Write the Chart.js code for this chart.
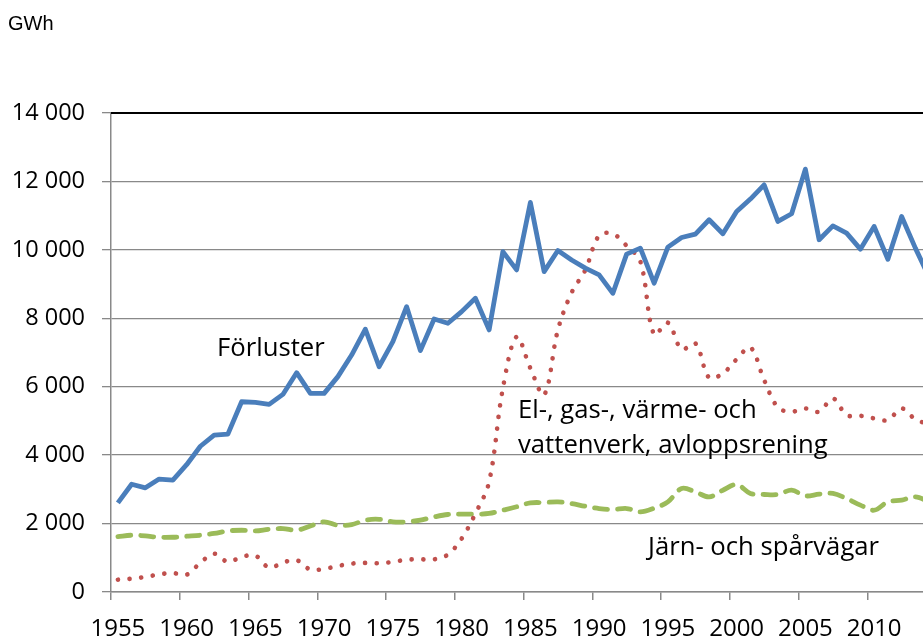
<!DOCTYPE html>
<html>
<head>
<meta charset="utf-8">
<script src="https://cdn.jsdelivr.net/npm/chart.js@4"></script>
<style>
  html, body { margin: 0; padding: 0; background: #fff; overflow: hidden; width: 923px; height: 637px; }
  canvas { display: block; }
</style>
</head>
<body>
<canvas id="chart" width="950" height="637"></canvas>
<script>
const years = [
    '1955', '1956', '1957', '1958', '1959', '1960', '1961', '1962', '1963', '1964',
    '1965', '1966', '1967', '1968', '1969', '1970', '1971', '1972', '1973', '1974',
    '1975', '1976', '1977', '1978', '1979', '1980', '1981', '1982', '1983', '1984',
    '1985', '1986', '1987', '1988', '1989', '1990', '1991', '1992', '1993', '1994',
    '1995', '1996', '1997', '1998', '1999', '2000', '2001', '2002', '2003', '2004',
    '2005', '2006', '2007', '2008', '2009', '2010', '2011', '2012', '2013', '2014'
];

// GWh
const forluster = [
    2605, 3150, 3045, 3300, 3270, 3720, 4260, 4585, 4615, 5560,
    5540, 5485, 5775, 6410, 5805, 5805, 6295, 6925, 7680, 6585,
    7320, 8340, 7055, 7980, 7855, 8195, 8585, 7660, 9950, 9415,
    11385, 9365, 9980, 9705, 9465, 9270, 8730, 9875, 10050, 9025,
    10080, 10360, 10460, 10880, 10470, 11120, 11485, 11900, 10830, 11055,
    12360, 10295, 10700, 10490, 10020, 10685, 9725, 10975, 10050, 9200
];
const elGasVarme = [
    360, 390, 440, 515, 555, 505, 855, 1120, 880, 1025,
    1065, 710, 860, 930, 655, 675, 760, 830, 850, 840,
    880, 945, 955, 955, 1095, 1560, 2290, 3220, 5950, 7460,
    6540, 5760, 7660, 8750, 9415, 10420, 10470, 10120, 9660, 7520,
    7870, 7090, 7270, 6260, 6390, 6800, 7150, 6195, 5395, 5270,
    5365, 5270, 5660, 5170, 5150, 5075, 5025, 5365, 5045, 4900
];
const jarnvagar = [
    1620, 1660, 1640, 1600, 1600, 1630, 1660, 1710, 1785, 1805,
    1785, 1835, 1855, 1805, 1930, 2050, 1950, 1970, 2100, 2125,
    2050, 2050, 2100, 2195, 2265, 2275, 2275, 2295, 2390, 2490,
    2605, 2615, 2635, 2585, 2505, 2440, 2410, 2440, 2340, 2450,
    2635, 3025, 2925, 2780, 2975, 3140, 2880, 2850, 2850, 2975,
    2810, 2860, 2880, 2730, 2540, 2390, 2635, 2685, 2780, 2640
];
const yTicks = [0, 2000, 4000, 6000, 8000, 10000, 12000, 14000];

const gridGray = '#898989';
const fontFamily = '"Open Sans", sans-serif';

// text labels drawn straight on the canvas
const textLabels = {
    id: 'textLabels',
    afterDraw(chart) {
        const ctx = chart.ctx;
        const area = chart.chartArea;
        ctx.save();
        // top border of the plot area
        ctx.strokeStyle = '#000';
        ctx.lineWidth = 2;
        ctx.beginPath();
        ctx.moveTo(area.left, area.top);
        ctx.lineTo(area.right, area.top);
        ctx.stroke();

        ctx.fillStyle = '#000';
        ctx.textBaseline = 'alphabetic';
        ctx.textAlign = 'left';
        ctx.font = '20px "Liberation Sans", Arial, sans-serif';
        ctx.fillText('GWh', 8, 30);

        ctx.font = '25.7px ' + fontFamily;
        ctx.fillText('Förluster', 217, 356);
        ctx.fillText('El-, gas-, värme- och', 518, 418);
        ctx.fillText('vattenverk, avloppsrening', 518, 453);
        ctx.fillText('Järn- och spårvägar', 648, 555);
        ctx.restore();
    }
};

const ctx = document.getElementById('chart').getContext('2d');
new Chart(ctx, {
    type: 'line',
    data: {
        labels: years,
        datasets: [
            {
                label: 'Förluster',
                data: forluster,
                borderColor: '#4a7ebb',
                borderWidth: 4.8,
                tension: 0,
                borderJoinStyle: 'round'
            },
            {
                label: 'El-, gas-, värme- och vattenverk, avloppsrening',
                data: elGasVarme,
                borderColor: '#c0504d',
                borderWidth: 4.6,
                borderCapStyle: 'round',
                borderDash: [0.1, 11.6],
                tension: 0.35
            },
            {
                label: 'Järn- och spårvägar',
                data: jarnvagar,
                borderColor: '#9bbb59',
                borderWidth: 4.8,
                borderCapStyle: 'round',
                borderDash: [13, 10],
                tension: 0.35
            }
        ]
    },
    options: {
        responsive: false,
        animation: false,
        devicePixelRatio: 1,
        layout: { padding: { top: 113, right: 14, bottom: 0, left: 0 } },
        elements: { point: { radius: 0 } },
        plugins: {
            legend: { display: false },
            tooltip: { enabled: false }
        },
        scales: {
            x: {
                type: 'category',
                offset: true,
                afterFit: scale => { scale.height = 45; },
                grid: {
                    offset: true,
                    drawOnChartArea: false,
                    tickLength: 8,
                    lineWidth: 1.5,
                    color: c => (c.index % 5 === 0 ? gridGray : 'rgba(0,0,0,0)')
                },
                border: { color: gridGray, width: 1.5 },
                ticks: {
                    autoSkip: false,
                    maxRotation: 0,
                    padding: 15,
                    color: '#000',
                    font: { family: fontFamily, size: 24 },
                    callback: function (value, index) {
                        return index % 5 === 0 ? years[index] : '';
                    }
                }
            },
            y: {
                min: 0,
                max: 14000,
                afterFit: scale => { scale.width = 111; },
                afterBuildTicks: scale => { scale.ticks = yTicks.map(v => ({ value: v })); },
                grid: {
                    color: gridGray,
                    lineWidth: 1.3,
                    tickLength: 9
                },
                border: { color: gridGray, width: 1.5 },
                ticks: {
                    padding: 17,
                    color: '#000',
                    font: { family: fontFamily, size: 23.5 },
                    callback: v => String(v).replace(/\B(?=(\d{3})+(?!\d))/g, ' ')
                }
            }
        }
    },
    plugins: [textLabels]
});
</script>
</body>
</html>
